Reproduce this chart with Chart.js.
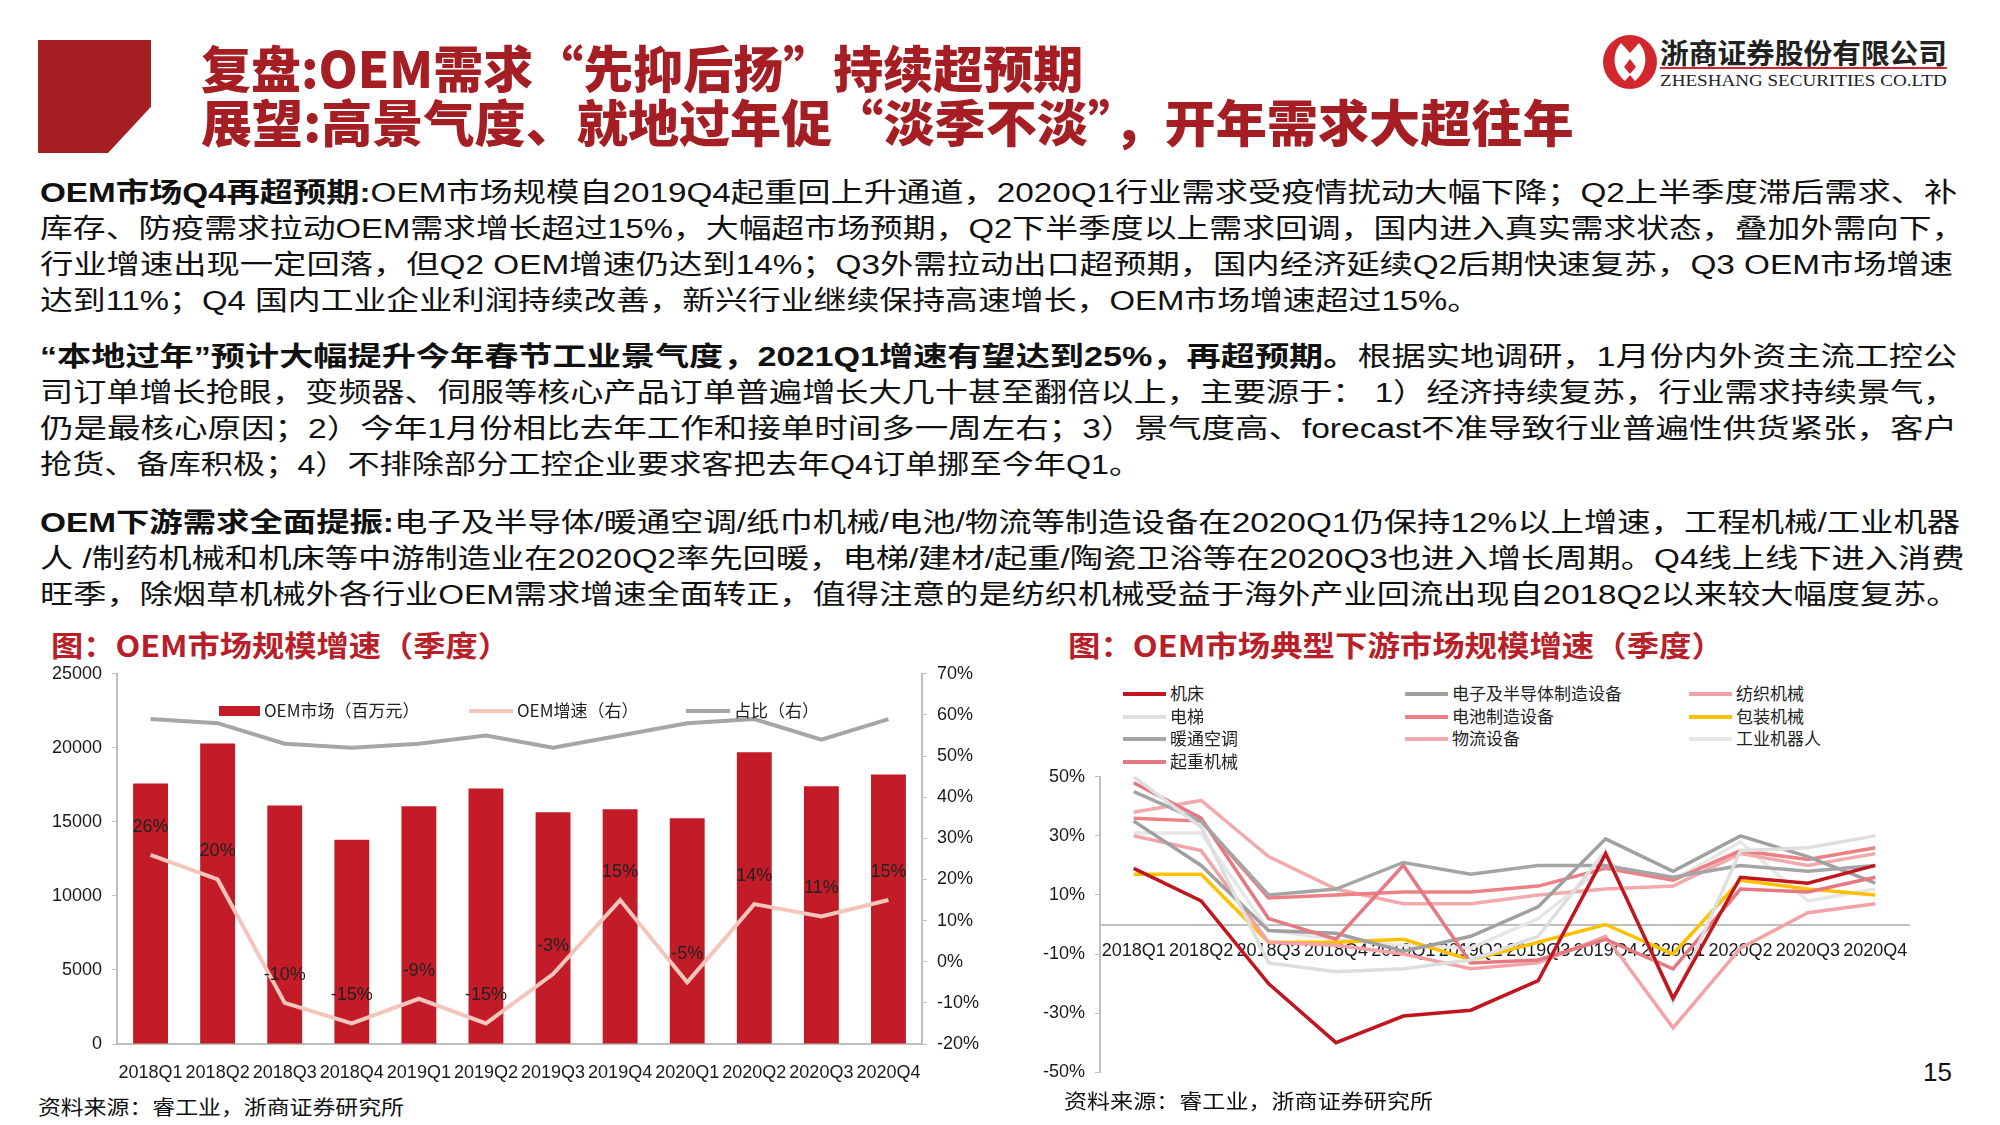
<!DOCTYPE html>
<html>
<head>
<meta charset="utf-8">
<script src="https://cdn.jsdelivr.net/npm/chart.js@4.4.1/dist/chart.umd.min.js"></script>
<style>
html, body { margin: 0; padding: 0; background: #fff; }
#page { position: relative; width: 2000px; height: 1125px; overflow: hidden;
  font-family: "Liberation Sans", "Noto Sans CJK SC", sans-serif; color: #111; }
.t { position: absolute; white-space: nowrap; line-height: 1; transform-origin: 0 50%; }
.title { font-family: "Noto Sans CJK SC", sans-serif; font-weight: 900; font-size: 50px; color: #A51E24; }
.body { font-size: 27px; }
.body b { font-weight: 700; }
.ctitle { font-family: "Noto Sans CJK SC", sans-serif; font-weight: 700; font-size: 29px; color: #B81F29; }
.src { font-size: 20px; color: #111; }
.box { position: absolute; }
.lg { position: absolute; font-family: "Noto Sans CJK SC", sans-serif; font-size: 17px; color: #222; white-space: nowrap; line-height: 1; }
.lg i { display: inline-block; width: 43px; height: 4px; vertical-align: middle; margin-right: 4px; position: relative; top: -1px; }
</style>
</head>
<body>
<div id="page">
  <div class="box" style="left:38px;top:40px;width:113px;height:113px;background:#A51E24;clip-path:polygon(0 0,100% 0,100% 59%,62% 100%,0 100%);"></div>
  <div class="t title" data-w="882" style="left:201px;top:41px;">复盘:OEM需求“先抑后扬”持续超预期</div>
  <div class="t title" data-w="1373" style="left:201px;top:95px;">展望:高景气度、就地过年促“淡季不淡”，开年需求大超往年</div>

  <svg class="box" style="left:1602px;top:34px;" width="56" height="56" viewBox="-28 -28 56 56">
    <circle r="27" fill="#D3272E"/>
    <path d="M-9,-19 C-19,-8 -17,9 -5,19 L0,13 L5,19 C17,9 19,-8 9,-19 L0,-9 Z" fill="#fff"/>
    <path d="M0,-3 L6,5 L0,12 L-6,5 Z" fill="#D3272E"/>
  </svg>
  <div class="t" data-w="287" style="left:1660px;top:38px;font-family:'Noto Sans CJK SC';font-weight:700;font-size:28px;color:#222;">浙商证券股份有限公司</div>
  <div class="box" style="left:1660px;top:67px;width:287px;height:2px;background:#D3272E;"></div>
  <div class="t" data-w="287" style="left:1660px;top:72px;font-family:'Liberation Serif';font-size:17px;color:#222;">ZHESHANG SECURITIES CO.LTD</div>

  <div class="t body" data-w="1917" style="left:40px;top:180px;"><b>OEM市场Q4再超预期:</b>OEM市场规模自2019Q4起重回上升通道，2020Q1行业需求受疫情扰动大幅下降；Q2上半季度滞后需求、补</div>
  <div class="t body" data-w="1925" style="left:40px;top:216px;">库存、防疫需求拉动OEM需求增长超过15%，大幅超市场预期，Q2下半季度以上需求回调，国内进入真实需求状态，叠加外需向下，</div>
  <div class="t body" data-w="1913" style="left:40px;top:252px;">行业增速出现一定回落，但Q2 OEM增速仍达到14%；Q3外需拉动出口超预期，国内经济延续Q2后期快速复苏，Q3 OEM市场增速</div>
  <div class="t body" data-w="1440" style="left:40px;top:288px;">达到11%；Q4 国内工业企业利润持续改善，新兴行业继续保持高速增长，OEM市场增速超过15%。</div>

  <div class="t body" data-w="1917" style="left:40px;top:344px;"><b>“本地过年”预计大幅提升今年春节工业景气度，2021Q1增速有望达到25%，再超预期。</b>根据实地调研，1月份内外资主流工控公</div>
  <div class="t body" data-w="1917" style="left:40px;top:380px;">司订单增长抢眼，变频器、伺服等核心产品订单普遍增长大几十甚至翻倍以上，主要源于：  1）经济持续复苏，行业需求持续景气，</div>
  <div class="t body" data-w="1917" style="left:40px;top:416px;">仍是最核心原因；2）今年1月份相比去年工作和接单时间多一周左右；3）景气度高、forecast不准导致行业普遍性供货紧张，客户</div>
  <div class="t body" data-w="1101" style="left:40px;top:452px;">抢货、备库积极；4）不排除部分工控企业要求客把去年Q4订单挪至今年Q1。</div>

  <div class="t body" data-w="1920" style="left:40px;top:510px;"><b>OEM下游需求全面提振:</b>电子及半导体/暖通空调/纸巾机械/电池/物流等制造设备在2020Q1仍保持12%以上增速，工程机械/工业机器</div>
  <div class="t body" data-w="1925" style="left:40px;top:546px;">人 /制药机械和机床等中游制造业在2020Q2率先回暖，电梯/建材/起重/陶瓷卫浴等在2020Q3也进入增长周期。Q4线上线下进入消费</div>
  <div class="t body" data-w="1920" style="left:40px;top:582px;">旺季，除烟草机械外各行业OEM需求增速全面转正，值得注意的是纺织机械受益于海外产业回流出现自2018Q2以来较大幅度复苏。</div>

  <div class="t ctitle" data-w="459" style="left:51px;top:630px;">图：OEM市场规模增速（季度）</div>
  <div class="t ctitle" data-w="656" style="left:1068px;top:630px;">图：OEM市场典型下游市场规模增速（季度）</div>

  <div class="box" style="left:40px;top:653px;width:960px;height:431px;"><canvas id="left"></canvas></div>
  <div id="llegend"></div>
  <div class="box" style="left:1030px;top:756px;width:890px;height:337px;"><canvas id="right"></canvas></div>
  <div id="rlegend"></div>

  <div class="t src" data-w="366" style="left:38px;top:1098px;">资料来源：睿工业，浙商证券研究所</div>
  <div class="t src" data-w="369" style="left:1064px;top:1092px;">资料来源：睿工业，浙商证券研究所</div>
  <div class="t" style="left:1923px;top:1059px;font-size:26px;">15</div>
</div>

<script>
// left chart
const quarters = ['2018Q1', '2018Q2', '2018Q3', '2018Q4', '2019Q1', '2019Q2', '2019Q3', '2019Q4', '2020Q1', '2020Q2', '2020Q3', '2020Q4'];
const oemMarket = [17600, 20300, 16100, 13800, 16050, 17250, 15650, 15850, 15250, 19700, 17400, 18200];
const oemGrowth = [26, 20, -10, -15, -9, -15, -3, 15, -5, 14, 11, 15];
const oemShare = [59, 58, 53, 52, 53, 55, 52, 55, 58, 59, 54, 59];

// right chart, one array per downstream industry
const jichuang = [19, 8, -20, -40, -31, -29, -19, 24, -25, 16, 14, 20];
const dianti = [50, 33, -13, -16, -15, -12, -4, 25, -26, 25, 26, 30];
const nuantong = [45, 35, 10, 12, 21, 17, 20, 20, 16, 20, 18, 20];
const qizhong = [48, 36, 2, -5, 20, -13, -12, -5, -15, 12, 11, 16];
const dianzi = [35, 20, -2, -3, -9, -4, 6, 29, 18, 30, 23, 14];
const dianchi = [36, 35, 9, 10, 11, 11, 13, 19, 15, 25, 22, 26];
const wuliu = [38, 42, 23, 12, 7, 7, 10, 12, 13, 24, 20, 24];
const fangzhi = [30, 25, -6, -7, -10, -15, -13, -4, -35, -8, 4, 7];
const baozhuang = [17, 17, -6, -6, -5, -12, -6, 0, -10, 15, 12, 10];
const jiqiren = [31, 31, -2, -5, -7, -8, 2, 20, 15, 28, 8, 12];

Chart.defaults.font.family = '"Liberation Sans", "Noto Sans CJK SC", sans-serif';
Chart.defaults.color = '#1a1a1a';
Chart.defaults.animation = false;

const axisGray = '#BFBFBF';

const growthLabels = {
  id: 'growthLabels',
  afterDatasetsDraw(chart) {
    const meta = chart.getDatasetMeta(1);
    const ctx = chart.ctx;
    ctx.save();
    ctx.font = '18px "Liberation Sans", sans-serif';
    ctx.fillStyle = '#222';
    ctx.textAlign = 'center';
    ctx.textBaseline = 'middle';
    meta.data.forEach((pt, i) => ctx.fillText(oemGrowth[i] + '%', pt.x, pt.y - 28));
    ctx.restore();
  }
};

const leftChart = new Chart(document.getElementById('left'), {
  data: {
    labels: quarters,
    datasets: [
      { type: 'bar', label: 'OEM市场（百万元）', data: oemMarket, backgroundColor: '#C11C27',
        barPercentage: 0.52, categoryPercentage: 1, yAxisID: 'y', order: 2 },
      { type: 'line', label: 'OEM增速（右）', data: oemGrowth, borderColor: '#F4C6BB', backgroundColor: '#F4C6BB',
        borderWidth: 4, pointRadius: 0, yAxisID: 'y1', order: 0 },
      { type: 'line', label: '占比（右）', data: oemShare, borderColor: '#A6A6A6', backgroundColor: '#A6A6A6',
        borderWidth: 4, pointRadius: 0, yAxisID: 'y1', order: 1 }
    ]
  },
  options: {
    responsive: true,
    maintainAspectRatio: false,
    layout: { padding: { top: 10 } },
    plugins: { tooltip: { enabled: false }, legend: { display: false } },
    scales: {
      x: {
        grid: { display: false },
        border: { color: axisGray, width: 2 },
        ticks: { autoSkip: false, maxRotation: 0, padding: 10, font: { size: 18 } },
        afterFit: (s) => { s.height = 40; }
      },
      y: {
        position: 'left', min: 0, max: 25000,
        ticks: { stepSize: 5000, padding: 10, font: { size: 18 }, callback: (v) => String(v) },
        grid: { drawOnChartArea: false, tickLength: 5, color: axisGray },
        border: { color: axisGray, width: 2 },
        afterFit: (s) => { s.width = 77; }
      },
      y1: {
        position: 'right', min: -20, max: 70,
        ticks: { stepSize: 10, padding: 10, font: { size: 18 }, callback: (v) => v + '%' },
        grid: { drawOnChartArea: false, tickLength: 5, color: axisGray },
        border: { color: axisGray, width: 2 },
        afterFit: (s) => { s.width = 78; }
      }
    }
  },
  plugins: [growthLabels]
});

// left legend, sits inside the plot like the original
const llPos = [219, 469, 686];
document.getElementById('llegend').innerHTML = leftChart.data.datasets.map((ds, i) => {
  const sw = ds.type === 'bar'
    ? '<i style="width:41px;height:10px;background:' + ds.backgroundColor + '"></i>'
    : '<i style="width:44px;background:' + ds.borderColor + '"></i>';
  return '<div class="lg" style="left:' + llPos[i] + 'px;top:701px;">' + sw + ds.label + '</div>';
}).join('');

const industries = [
  { label: '机床', data: jichuang, color: '#C0161F' },
  { label: '电梯', data: dianti, color: '#DEDEDE' },
  { label: '暖通空调', data: nuantong, color: '#A5A5A5' },
  { label: '起重机械', data: qizhong, color: '#E57880' },
  { label: '电子及半导体制造设备', data: dianzi, color: '#A0A0A0' },
  { label: '电池制造设备', data: dianchi, color: '#EC8084' },
  { label: '物流设备', data: wuliu, color: '#F2AAAC' },
  { label: '纺织机械', data: fangzhi, color: '#F3A2A6' },
  { label: '包装机械', data: baozhuang, color: '#FFC000' },
  { label: '工业机器人', data: jiqiren, color: '#E6E6E6' }
];

const rightChart = new Chart(document.getElementById('right'), {
  type: 'line',
  data: {
    labels: quarters,
    datasets: industries.map((d) => ({
      label: d.label, data: d.data, borderColor: d.color, backgroundColor: d.color,
      borderWidth: 3.5, pointRadius: 0, tension: 0
    }))
  },
  options: {
    responsive: true,
    maintainAspectRatio: false,
    layout: { padding: { top: 10, bottom: 10, right: 11 } },
    plugins: { legend: { display: false }, tooltip: { enabled: false } },
    scales: {
      x: {
        position: { y: 0 },
        offset: true,
        grid: { display: false },
        border: { color: axisGray, width: 2 },
        ticks: { autoSkip: false, maxRotation: 0, padding: 8, font: { size: 18 } }
      },
      y: {
        min: -50, max: 50,
        ticks: { stepSize: 20, padding: 10, font: { size: 18 }, callback: (v) => v + '%' },
        grid: { drawOnChartArea: false, tickLength: 5, color: axisGray },
        border: { color: axisGray, width: 2 },
        afterFit: (s) => { s.width = 70; }
      }
    }
  }
});

// right legend in three columns, like the original
const lgCols = [1123, 1405, 1689];
document.getElementById('rlegend').innerHTML = rightChart.data.datasets.map((ds, i) => {
  const col = i < 4 ? 0 : (i < 7 ? 1 : 2);
  const row = i < 4 ? i : (i < 7 ? i - 4 : i - 7);
  return '<div class="lg" style="left:' + lgCols[col] + 'px;top:' + (684 + row * 22.5) + 'px;">' +
    '<i style="background:' + ds.borderColor + '"></i>' + ds.label + '</div>';
}).join('');

// squeeze / stretch text lines to the widths of the original slide
function fitLines() {
  document.querySelectorAll('[data-w]').forEach((el) => {
    const nat = el.offsetWidth;
    el.style.transform = 'scaleX(' + (+el.dataset.w / nat) + ')';
  });
}
if (document.fonts && document.fonts.ready) document.fonts.ready.then(fitLines); else fitLines();
</script>
</body>
</html>
